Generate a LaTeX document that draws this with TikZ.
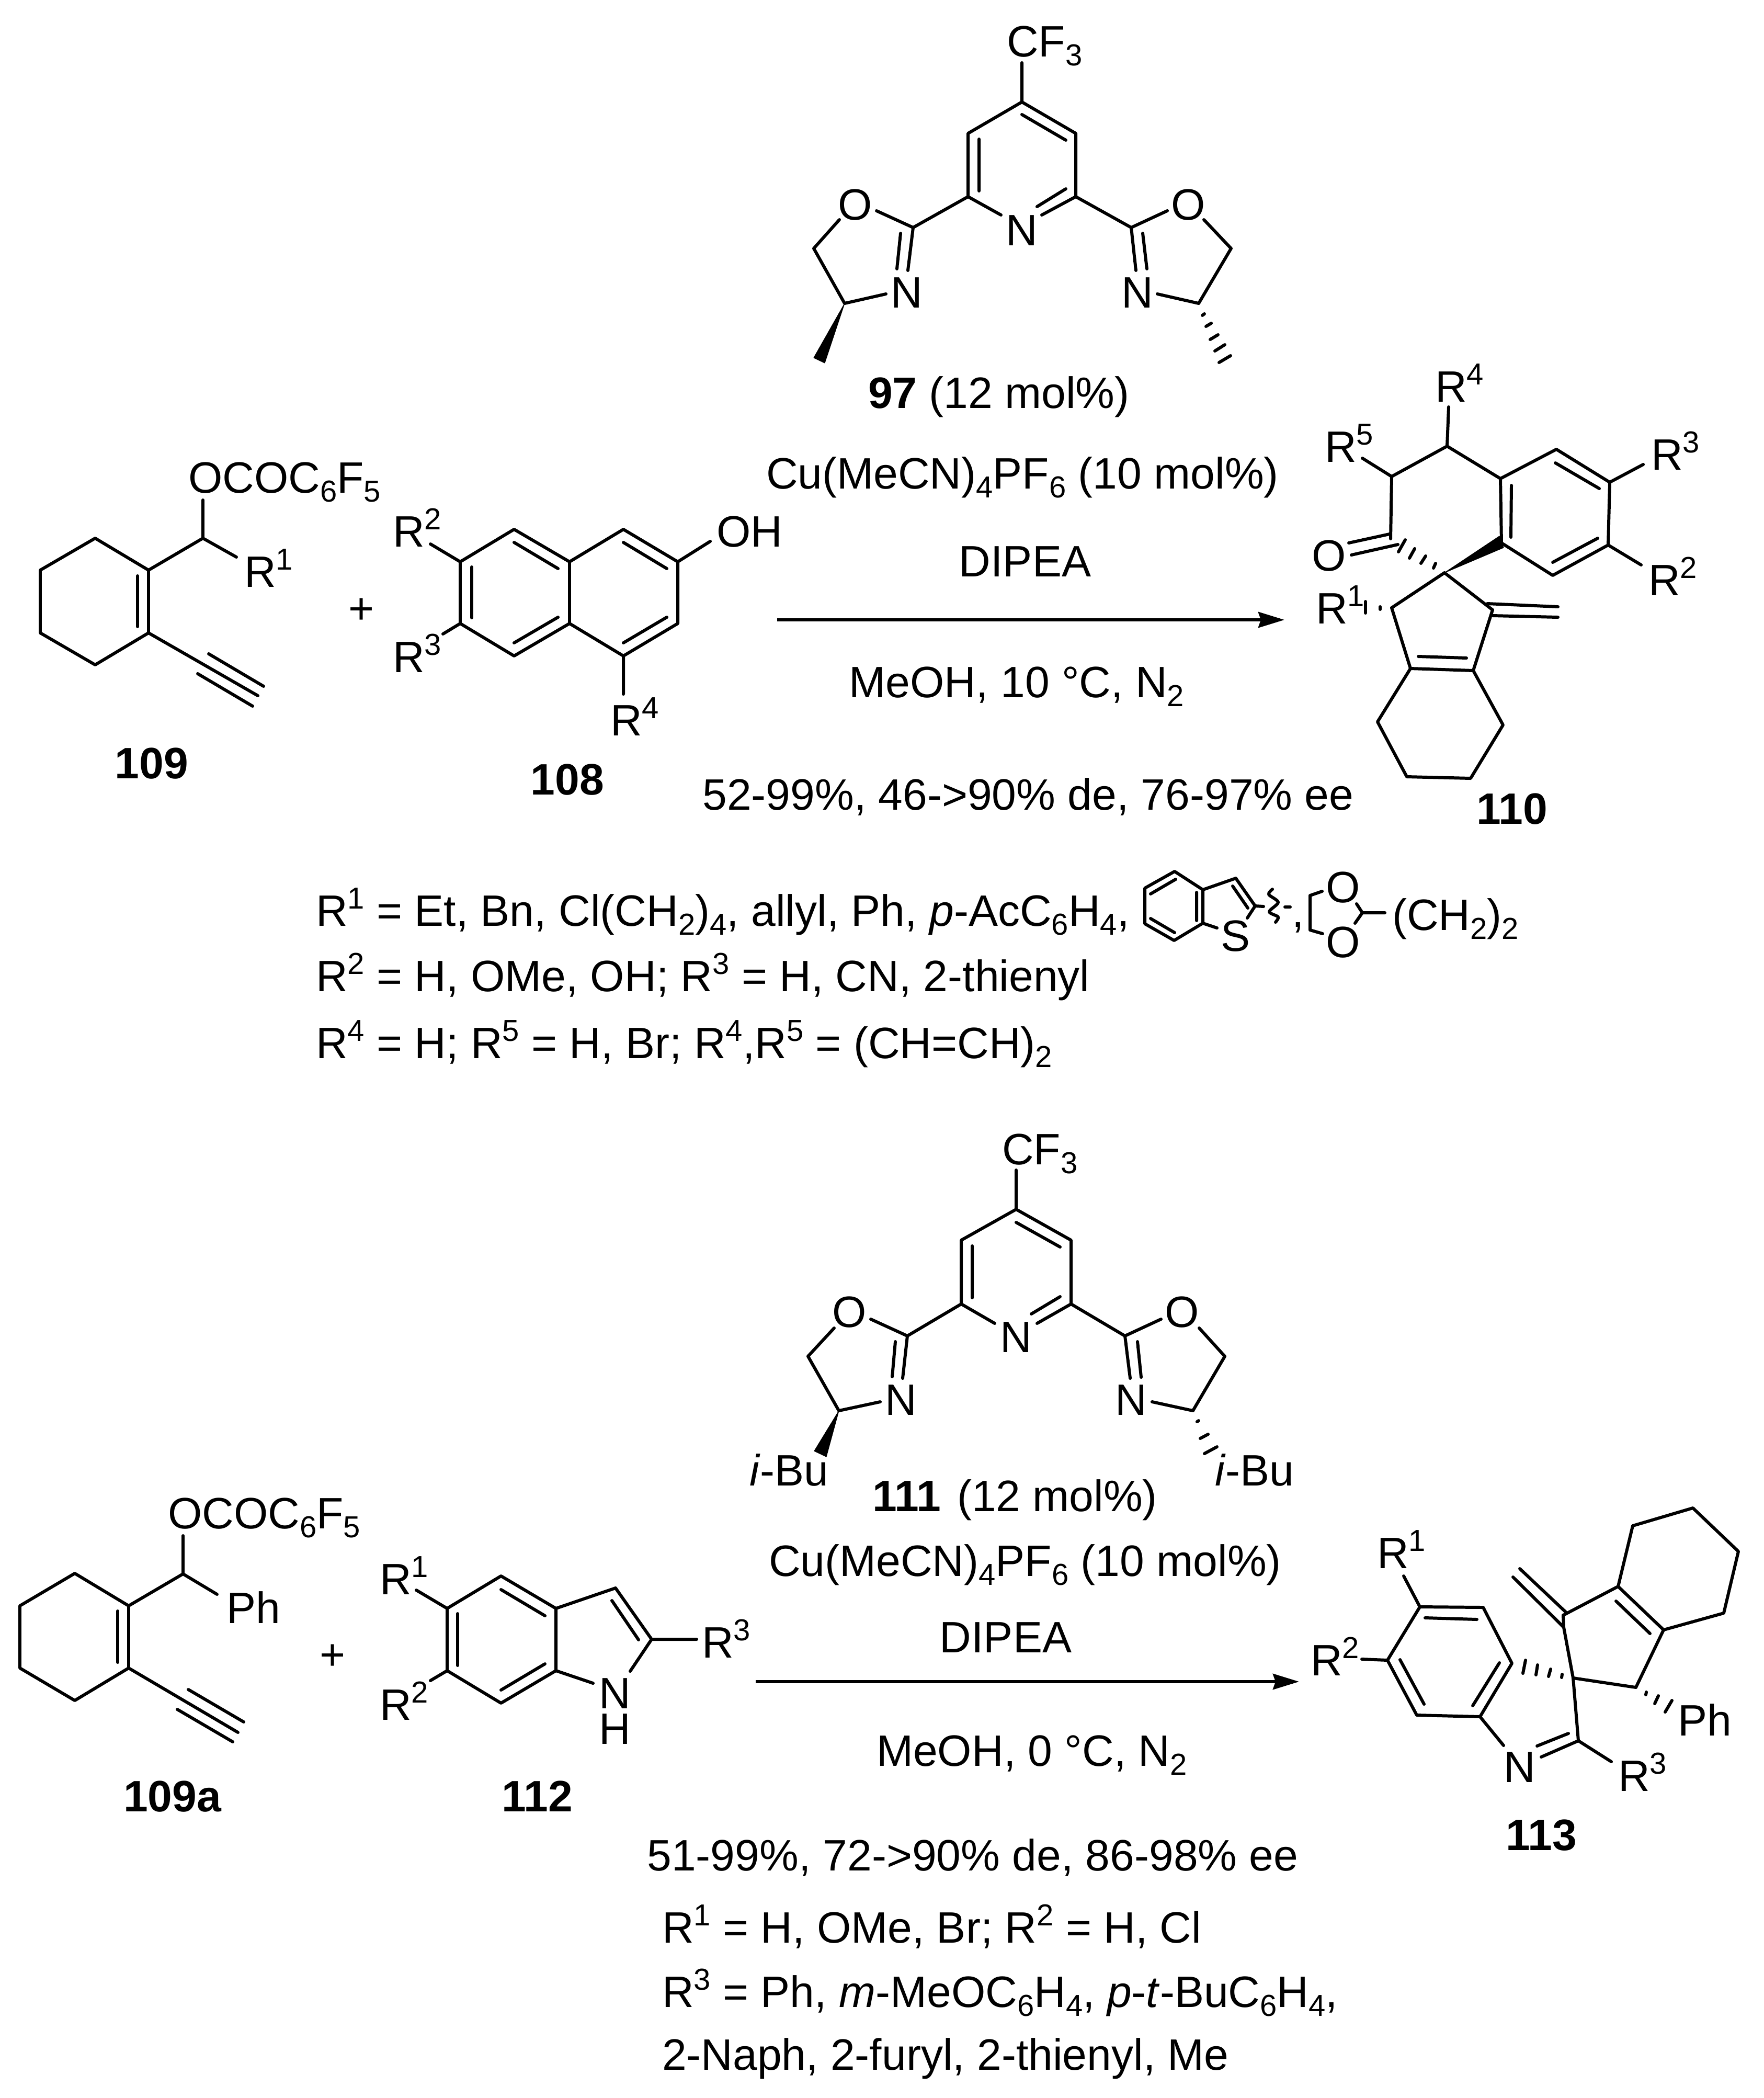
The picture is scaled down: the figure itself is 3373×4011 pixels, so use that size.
\documentclass[tikz,border=0pt]{standalone}
\usepackage{fontspec}
\setmainfont{Liberation Sans}
\usetikzlibrary{arrows.meta}
\newcommand\Sb[1]{\raisebox{-0.21em}{\fontsize{16.5}{16.5}\selectfont #1}}
\newcommand\Sp[1]{\raisebox{0.39em}{\fontsize{16.5}{16.5}\selectfont #1}}
\tikzset{
  x=0.01cm,y=-0.01cm,
  bd/.style={line width=1.7pt,line join=round,line cap=round,black},
  wedge/.style={fill=black,draw=black,line width=0.3pt,line join=round},
  lbl/.style={inner sep=0pt,outer sep=0pt,anchor=base west,font=\fontsize{23.9}{26}\selectfont,black},
  clbl/.style={lbl,anchor=base},
  rxn/.style={line width=1.7pt,black,-{Stealth[length=50*0.01cm,width=30*0.01cm,inset=5*0.01cm]}},
}
\begin{document}
\begin{tikzpicture}
\useasboundingbox (0,0) rectangle (3373,4011);
% ---------- 109
\draw[bd] (182,1029)--(77,1090)--(77,1210)--(182,1271)--(284,1210)--(284,1090)--cycle;
\draw[bd] (263,1101)--(263,1198);
\draw[bd] (284,1090)--(388,1029)--(388,956);
\draw[bd] (388,1029)--(452,1065);
\draw[bd] (284,1210)--(493,1330) (399,1250)--(504,1312) (378,1288)--(483,1350);
\node[lbl] (a109o) at (360,942) {OCOC\Sb{6}F\Sb{5}};
\node[lbl] (a109r) at (467,1122) {R\Sp{1}};
\node[clbl] (a109) at (290,1488) {\textbf{109}};
\node[clbl] (plus1) at (691,1192) {+};
% ---------- 108
\draw[bd] (880,1074)--(983,1012)--(1089,1074)--(1192,1012)--(1296,1074)--(1296,1192)--(1192,1254)--(1089,1192)--(983,1254)--(880,1192)--cycle;
\draw[bd] (1089,1074)--(1089,1192);
\draw[bd] (902,1084)--(902,1181) (983,1037)--(1067,1087) (983,1229)--(1067,1180) (1192,1037)--(1275,1087) (1192,1229)--(1275,1180);
\draw[bd] (880,1074)--(823,1040) (880,1192)--(847,1212) (1192,1254)--(1192,1327) (1296,1074)--(1358,1035);
\node[lbl] (b108r2) at (751,1045) {R\Sp{2}};
\node[lbl] (b108r3) at (751,1285) {R\Sp{3}};
\node[lbl] (b108r4) at (1167,1406) {R\Sp{4}};
\node[lbl] (b108oh) at (1370,1045) {OH};
\node[clbl] (b108) at (1085,1519) {\textbf{108}};
% ---------- 97
\draw[bd] (1954,120)--(1954,195)--(1851,255)--(1851,376)--(1914,411);
\draw[bd] (1954,195)--(2057,255)--(2057,376)--(1992,411);
\draw[bd] (1872,266)--(1872,365) (1954,219)--(2038,268) (2038,361)--(1983,395);
\draw[bd] (1851,376)--(1746,435)--(1676,403) (1605,420)--(1556,475)--(1615,580)--(1694,562);
\draw[bd] (1746,435)--(1736,517) (1722,446)--(1715,514);
\draw[bd] (2057,376)--(2163,435)--(2232,403) (2302,420)--(2354,475)--(2292,580)--(2213,562);
\draw[bd] (2163,435)--(2172,517) (2185,446)--(2193,514);
\fill[wedge] (1615,580)--(1556,684)--(1577,694)--cycle;
\draw[bd] (2299,603)--(2303,600) (2306,624)--(2316,618) (2314,649)--(2329,640) (2323,671)--(2342,659) (2331,693)--(2353,680);
\node[lbl] (c97cf) at (1925,108) {CF\Sb{3}};
\node[clbl] (c97n1) at (1954,469) {N};
\node[clbl] (c97n2) at (1734,588) {N};
\node[clbl] (c97n3) at (2175,588) {N};
\node[clbl] (c97o1) at (1635,420) {O};
\node[clbl] (c97o2) at (2272,420) {O};
\node[lbl] (c97) at (1660,780) {\textbf{97} (12 mol\%)};
\node[clbl] (cond1a) at (1955,934) {Cu(MeCN)\Sb{4}PF\Sb{6} (10 mol\%)};
\node[clbl] (cond1b) at (1960,1102) {DIPEA};
\coordinate (ar1s) at (1486,1185);
\coordinate (ar1e) at (2456,1185);
\draw[rxn] (ar1s)--(ar1e);
\node[clbl] (cond1c) at (1944,1333) {MeOH, 10 °C, N\Sb{2}};
\node[clbl] (cond1d) at (1966,1548) {52-99\%, 46->90\% de, 76-97\% ee};
% ---------- 110
\draw[bd] (2770,778)--(2767,853)--(2661,911)--(2605,876);
\draw[bd] (2767,853)--(2869,915)--(2976,859)--(3078,922)--(3075,1042)--(2969,1100)--(2871,1038)--(2869,915);
\draw[bd] (2661,911)--(2659,1030);
\draw[bd] (2890,928)--(2889,1027) (2974,885)--(3058,934) (3055,1029)--(2969,1075);
\draw[bd] (3078,922)--(3142,888) (3075,1042)--(3138,1080);
\draw[bd] (2579,1038)--(2657,1021) (2584,1061)--(2673,1041);
\draw[bd] (2687,1032)--(2674,1055) (2705,1049)--(2695,1067) (2726,1063)--(2717,1077) (2745,1077)--(2741,1086);
\fill[wedge] (2762,1095)--(2867,1025)--(2875,1047)--cycle;
\draw[bd] (2854,1166)--(2762,1095)--(2661,1162)--(2697,1278)--(2817,1282)--(2854,1166);
\draw[bd] (2844,1154)--(2979,1160) (2854,1177)--(2979,1180);
\draw[bd] (2712,1255)--(2804,1258);
\draw[bd] (2697,1278)--(2634,1380)--(2690,1485)--(2812,1488)--(2874,1386)--(2817,1282);
\draw[bd] (2611,1150)--(2611,1172) (2639,1160)--(2639,1165);
\node[lbl] (d110r4) at (2744,768) {R\Sp{4}};
\node[lbl] (d110r5) at (2533,883) {R\Sp{5}};
\node[lbl] (d110r3) at (3157,898) {R\Sp{3}};
\node[lbl] (d110r2) at (3152,1138) {R\Sp{2}};
\node[clbl] (d110o) at (2541,1091) {O};
\node[lbl] (d110r1) at (2516,1192) {R\Sp{1}};
\node[clbl] (d110) at (2891,1575) {\textbf{110}};
% ---------- substituent list 1
\node[lbl] (l1a) at (604,1770) {R\Sp{1} = Et, Bn, Cl(CH\Sb{2})\Sb{4}, allyl, Ph, \textit{p}-AcC\Sb{6}H\Sb{4},};
\node[lbl] (l1b) at (604,1895) {R\Sp{2} = H, OMe, OH; R\Sp{3} = H, CN, 2-thienyl};
\node[lbl] (l1c) at (604,2023) {R\Sp{4} = H; R\Sp{5} = H, Br; R\Sp{4},R\Sp{5} = (CH=CH)\Sb{2}};
% benzothiophene
\draw[bd] (2246,1666)--(2189,1698)--(2189,1766)--(2245,1798)--(2300,1765)--(2300,1701)--cycle;
\draw[bd] (2248,1681)--(2200,1709) (2200,1756)--(2246,1783) (2288,1706)--(2288,1760);
\draw[bd] (2300,1701)--(2363,1679)--(2400,1732)--(2385,1755) (2300,1765)--(2327,1774);
\draw[bd] (2357,1694)--(2386,1736) (2400,1732)--(2416,1733);
\draw[bd] plot[smooth] coordinates {(2433,1700) (2426,1710) (2444,1725) (2427,1743) (2444,1753) (2439,1763)};
\draw[bd] (2457,1734)--(2467,1734);
\node[clbl] (s1) at (2363,1818) {S};
\node[lbl] (s2) at (2470,1772) {,};
% dioxolane
\draw[bd] (2528,1704)--(2505,1712)--(2505,1778)--(2529,1785);
\draw[bd] (2594,1728)--(2605,1745)--(2591,1765) (2605,1745)--(2648,1745);
\node[clbl] (s3) at (2568,1725) {O};
\node[clbl] (s4) at (2568,1830) {O};
\node[lbl] (s5) at (2662,1778) {(CH\Sb{2})\Sb{2}};
% ---------- 109a
\draw[bd] (143,3008)--(38,3070)--(38,3189)--(143,3251)--(246,3189)--(246,3070)--cycle;
\draw[bd] (225,3080)--(225,3178);
\draw[bd] (246,3070)--(350,3009)--(350,2936) (350,3009)--(415,3048);
\draw[bd] (246,3189)--(455,3312) (360,3230)--(466,3292) (339,3268)--(445,3330);
\node[lbl] (e109o) at (321,2922) {OCOC\Sb{6}F\Sb{5}};
\node[lbl] (e109p) at (433,3103) {Ph};
\node[clbl] (e109) at (330,3463) {\textbf{109a}};
\node[clbl] (plus2) at (636,3192) {+};
% ---------- 112
\draw[bd] (855,3075)--(958,3013)--(1063,3075)--(1063,3194)--(958,3256)--(855,3194)--cycle;
\draw[bd] (1063,3075)--(1177,3036)--(1246,3134)--(1205,3195) (1063,3194)--(1134,3218);
\draw[bd] (875,3085)--(875,3184) (958,3039)--(1042,3089) (958,3231)--(1042,3181) (1170,3060)--(1221,3135);
\draw[bd] (855,3075)--(796,3040) (855,3194)--(823,3213) (1246,3134)--(1332,3134);
\node[lbl] (f112r1) at (726,3048) {R\Sp{1}};
\node[lbl] (f112r2) at (726,3288) {R\Sp{2}};
\node[lbl] (f112r3) at (1342,3169) {R\Sp{3}};
\node[clbl,anchor=base,align=center,font=\fontsize{23.9}{19.3}\selectfont] (f112n) at (1176,3334) {N\\H};
\node[clbl] (f112) at (1027,3463) {\textbf{112}};
% ---------- 111
\draw[bd] (1943,2237)--(1943,2312)--(1838,2371)--(1838,2493)--(1902,2530);
\draw[bd] (1943,2312)--(2048,2371)--(2048,2493)--(1983,2530);
\draw[bd] (1859,2382)--(1859,2481) (1943,2337)--(2027,2384) (2027,2479)--(1972,2512);
\draw[bd] (1838,2493)--(1735,2554)--(1665,2522) (1595,2539)--(1545,2593)--(1604,2697)--(1683,2680);
\draw[bd] (1735,2554)--(1726,2635) (1712,2565)--(1706,2632);
\draw[bd] (2048,2493)--(2151,2554)--(2220,2522) (2293,2539)--(2342,2593)--(2281,2697)--(2203,2680);
\draw[bd] (2151,2554)--(2161,2635) (2175,2565)--(2182,2633);
\fill[wedge] (1604,2697)--(1557,2774)--(1580,2785)--cycle;
\draw[bd] (2289,2718)--(2292,2716) (2295,2750)--(2310,2742) (2303,2779)--(2327,2766);
\node[lbl] (g111cf) at (1916,2226) {CF\Sb{3}};
\node[clbl] (g111n1) at (1943,2585) {N};
\node[clbl] (g111n2) at (1723,2705) {N};
\node[clbl] (g111n3) at (2163,2705) {N};
\node[clbl] (g111o1) at (1624,2537) {O};
\node[clbl] (g111o2) at (2260,2537) {O};
\node[lbl] (g111i1) at (1433,2840) {\textit{i}-Bu};
\node[lbl] (g111i2) at (2323,2840) {\textit{i}-Bu};
\node[lbl] (g111) at (1668,2889) {\textbf{111}};
\node[lbl] (g111m) at (1830,2889) {(12 mol\%)};
\node[clbl] (cond2a) at (1960,3013) {Cu(MeCN)\Sb{4}PF\Sb{6} (10 mol\%)};
\node[clbl] (cond2b) at (1923,3159) {DIPEA};
\coordinate (ar2s) at (1445,3215);
\coordinate (ar2e) at (2484,3215);
\draw[rxn] (ar2s)--(ar2e);
\node[clbl] (cond2c) at (1973,3376) {MeOH, 0 °C, N\Sb{2}};
\node[clbl] (cond2d) at (1860,3576) {51-99\%, 72->90\% de, 86-98\% ee};
\node[lbl] (l2a) at (1266,3714) {R\Sp{1} = H, OMe, Br; R\Sp{2} = H, Cl};
\node[lbl] (l2b) at (1266,3837) {R\Sp{3} = Ph, \textit{m}-MeOC\Sb{6}H\Sb{4}, \textit{p}-\textit{t}-BuC\Sb{6}H\Sb{4},};
\node[lbl] (l2c) at (1266,3957) {2-Naph, 2-furyl, 2-thienyl, Me};
% ---------- 113
\draw[bd] (2715,3072)--(2836,3073)--(2891,3180)--(2830,3282)--(2709,3279)--(2653,3174)--cycle;
\draw[bd] (2725,3093)--(2824,3096) (2867,3179)--(2816,3261) (2677,3173)--(2723,3258);
\draw[bd] (2715,3072)--(2684,3013) (2653,3174)--(2604,3172);
\draw[bd] (2830,3282)--(2875,3337);
\draw[bd] (2939,3338)--(2999,3314) (2947,3359)--(3018,3328)--(3008,3208)--(2990,3111);
\draw[bd] (3018,3328)--(3081,3368);
\draw[bd] (2989,3088)--(3094,3033)--(3181,3116)--(3128,3226)--(3008,3208);
\draw[bd] (2906,2999)--(2994,3082) (2893,3015)--(2990,3111)--(2989,3088);
\draw[bd] (3090,3061)--(3155,3123);
\draw[bd] (3094,3033)--(3122,2917)--(3237,2883)--(3324,2966)--(3296,3084)--(3181,3116);
\draw[bd] (2917,3174)--(2912,3199) (2940,3183)--(2937,3202) (2965,3191)--(2961,3205) (2987,3201)--(2986,3207);
\draw[bd] (3148,3235)--(3147,3240) (3171,3242)--(3164,3257) (3197,3251)--(3184,3273);
\node[lbl] (h113r1) at (2633,2998) {R\Sp{1}};
\node[lbl] (h113r2) at (2506,3203) {R\Sp{2}};
\node[clbl] (h113n) at (2906,3407) {N};
\node[lbl] (h113r3) at (3094,3424) {R\Sp{3}};
\node[lbl] (h113p) at (3208,3318) {Ph};
\node[clbl] (h113) at (2947,3537) {\textbf{113}};
\end{tikzpicture}
\end{document}
